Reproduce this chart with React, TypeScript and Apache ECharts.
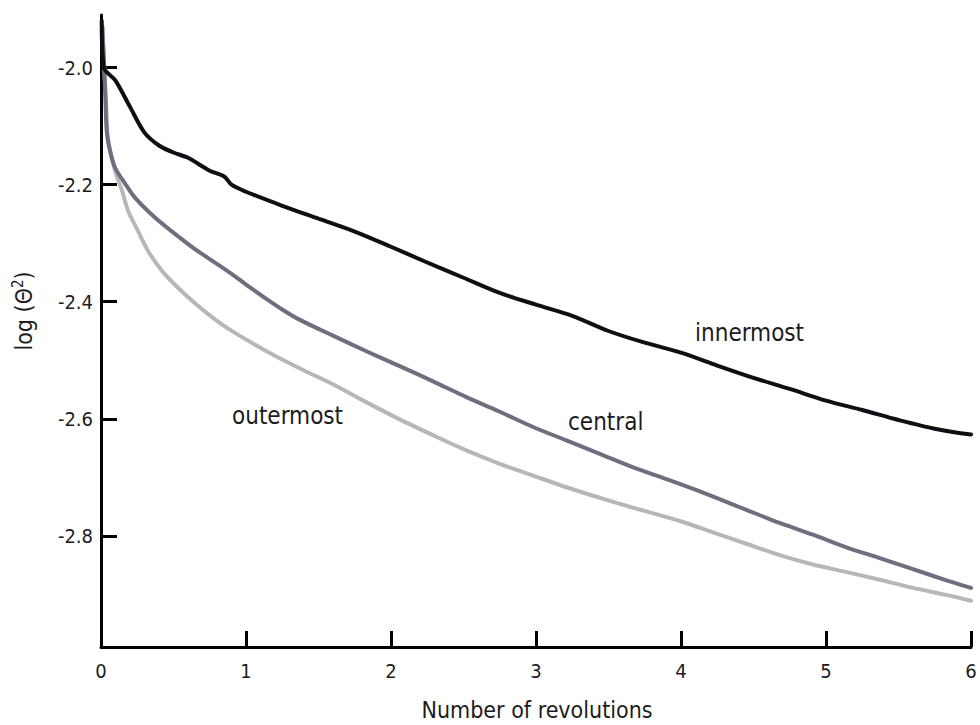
import React, { useEffect, useRef } from "react";
import * as echarts from "echarts";

// Revolutions (x) vs log(Θ²) (y) for three radial positions
const innermost: [number, number][] = [
  [0.005, -1.92], [0.02, -2.0], [0.1, -2.022], [0.2, -2.067], [0.3, -2.111],
  [0.4, -2.133], [0.5, -2.145], [0.6, -2.154], [0.75, -2.176], [0.85, -2.186],
  [0.9, -2.2], [1.0, -2.212], [1.25, -2.236], [1.5, -2.258], [1.75, -2.28],
  [2.0, -2.306], [2.25, -2.333], [2.5, -2.359], [2.75, -2.385], [3.0, -2.405],
  [3.25, -2.424], [3.5, -2.45], [3.75, -2.47], [4.0, -2.487], [4.25, -2.509],
  [4.5, -2.53], [4.75, -2.549], [5.0, -2.569], [5.25, -2.585], [5.5, -2.602],
  [5.75, -2.617], [6.0, -2.627],
];

const central: [number, number][] = [
  [0.01, -1.93], [0.03, -2.05], [0.04, -2.11], [0.062, -2.142], [0.097, -2.171],
  [0.166, -2.198], [0.234, -2.222], [0.372, -2.256], [0.51, -2.284], [0.648, -2.31],
  [0.786, -2.333], [0.91, -2.354], [1.03, -2.376], [1.14, -2.395], [1.255, -2.414],
  [1.372, -2.431], [1.6, -2.458], [1.834, -2.485], [2.06, -2.51], [2.29, -2.536],
  [2.52, -2.563], [2.75, -2.588], [2.98, -2.614], [3.21, -2.637], [3.44, -2.66],
  [3.67, -2.683], [3.9, -2.703], [4.13, -2.724], [4.455, -2.756], [4.68, -2.778],
  [4.91, -2.798], [5.145, -2.82], [5.37, -2.838], [5.6, -2.857], [5.83, -2.876],
  [6.0, -2.889],
];

const outermost: [number, number][] = [
  [0.015, -1.96], [0.035, -2.06], [0.048, -2.12], [0.097, -2.176], [0.145, -2.21],
  [0.186, -2.244], [0.255, -2.279], [0.324, -2.313], [0.42, -2.347], [0.531, -2.376],
  [0.683, -2.41], [0.786, -2.43], [0.91, -2.451], [1.145, -2.485], [1.372, -2.514],
  [1.6, -2.541], [1.786, -2.566], [2.06, -2.601], [2.29, -2.628], [2.52, -2.654],
  [2.75, -2.677], [2.98, -2.697], [3.21, -2.717], [3.44, -2.735], [3.67, -2.752],
  [3.9, -2.768], [4.01, -2.776], [4.22, -2.794], [4.455, -2.814], [4.68, -2.833],
  [4.91, -2.849], [5.145, -2.862], [5.37, -2.875], [5.6, -2.889], [5.83, -2.901],
  [6.0, -2.911],
];

const yTicks = [-2.8, -2.6, -2.4, -2.2, -2.0];
const xTicks = [0, 1, 2, 3, 4, 5, 6];

const FONT = "'DejaVu Sans Condensed', 'DejaVu Sans', sans-serif";
const TEXT = "#1c1c1c";

export default function App() {
  const ref = useRef<HTMLDivElement>(null);

  useEffect(() => {
    if (!ref.current) return;
    const chart = echarts.init(ref.current, null, { renderer: "svg" });

    const lineSeries = (
      name: string,
      data: [number, number][],
      color: string,
      z: number
    ) => ({
      name,
      type: "line",
      data,
      showSymbol: false,
      symbol: "none",
      smooth: 0.3,
      z,
      lineStyle: { color, width: 4, cap: "round", join: "round" },
    });

    chart.setOption({
      animation: false,
      backgroundColor: "#ffffff",
      grid: { left: 101, right: 9, top: 15, bottom: 78, containLabel: false },
      xAxis: {
        type: "value",
        min: 0,
        max: 6,
        interval: 1,
        splitLine: { show: false },
        axisLine: { lineStyle: { color: "#000", width: 3 } },
        axisTick: {
          inside: true,
          length: 16,
          customValues: xTicks,
          lineStyle: { color: "#000", width: 3 },
        },
        axisLabel: {
          customValues: xTicks,
          margin: 14,
          fontFamily: FONT,
          fontSize: 20,
          color: TEXT,
        },
      },
      yAxis: {
        type: "value",
        min: -2.99,
        max: -1.91,
        splitLine: { show: false },
        axisLine: { lineStyle: { color: "#000", width: 3 } },
        axisTick: {
          inside: true,
          length: 16,
          customValues: yTicks,
          lineStyle: { color: "#000", width: 3 },
        },
        axisLabel: {
          customValues: yTicks,
          margin: 8,
          fontFamily: FONT,
          fontSize: 20,
          color: TEXT,
          formatter: (v: number) => v.toFixed(1),
        },
      },
      graphic: [
        {
          type: "text",
          x: 24,
          y: 311,
          rotation: Math.PI / 2,
          style: {
            text: "{a|log (Θ}{sup|2}{a|)}",
            align: "center",
            verticalAlign: "middle",
            fill: TEXT,
            rich: {
              a: { fontFamily: FONT, fontSize: 23, fill: TEXT },
              sup: {
                fontFamily: FONT,
                fontSize: 15,
                fill: TEXT,
                padding: [0, 0, 12, 0],
              },
            },
          },
        },
        {
          type: "text",
          x: 537,
          y: 710,
          style: {
            text: "Number of revolutions",
            align: "center",
            verticalAlign: "middle",
            fontFamily: FONT,
            fontSize: 23,
            fill: TEXT,
          },
        },
        {
          type: "text",
          x: 695,
          y: 333,
          style: {
            text: "innermost",
            align: "left",
            verticalAlign: "middle",
            fontFamily: FONT,
            fontSize: 24,
            fill: TEXT,
          },
        },
        {
          type: "text",
          x: 568,
          y: 422,
          style: {
            text: "central",
            align: "left",
            verticalAlign: "middle",
            fontFamily: FONT,
            fontSize: 24,
            fill: TEXT,
          },
        },
        {
          type: "text",
          x: 232,
          y: 416,
          style: {
            text: "outermost",
            align: "left",
            verticalAlign: "middle",
            fontFamily: FONT,
            fontSize: 24,
            fill: TEXT,
          },
        },
      ],
      series: [
        lineSeries("outermost", outermost, "#b6b8b6", 2),
        lineSeries("central", central, "#6e6e7e", 3),
        lineSeries("innermost", innermost, "#0e0e14", 4),
      ],
    });

    return () => chart.dispose();
  }, []);

  return (
    <div
      ref={ref}
      style={{ position: "absolute", left: 0, top: 0, width: 980, height: 725 }}
    />
  );
}
